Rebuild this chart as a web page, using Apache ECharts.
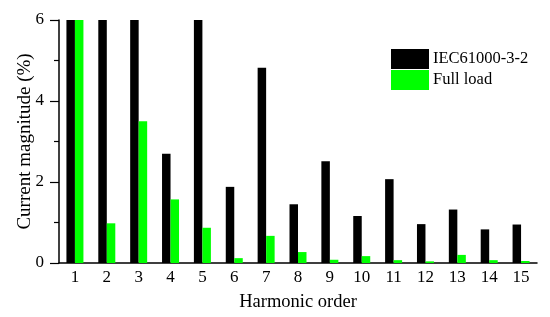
<!DOCTYPE html>
<html><head><meta charset="utf-8">
<script src="https://cdn.jsdelivr.net/npm/echarts@6/dist/echarts.min.js"></script>
<style>html,body{margin:0;padding:0;background:#fff}#c{width:550px;height:317px}</style>
</head><body><div id="c"></div>
<script>
const categories = ['1','2','3','4','5','6','7','8','9','10','11','12','13','14','15'];
const iecValues = [6, 6, 6, 2.70, 6, 1.88, 4.82, 1.45, 2.51, 1.16, 2.07, 0.96, 1.32, 0.83, 0.95];
const fullLoadValues = [6, 0.98, 3.50, 1.57, 0.87, 0.12, 0.67, 0.27, 0.08, 0.17, 0.07, 0.04, 0.20, 0.07, 0.05];
const seriesNames = ['IEC61000-3-2', 'Full load'];
const yTicks = [0, 2, 4, 6];

const font = '"Liberation Serif", "Times New Roman", serif';
const chart = echarts.init(document.getElementById('c'), null, {renderer: 'canvas'});
chart.setOption({
  animation: false,
  backgroundColor: '#fff',
  grid: {left: 59, right: 13, top: 20, bottom: 52, containLabel: false},
  legend: {
    orient: 'vertical', left: 391, top: 49, padding: 0,
    itemWidth: 38, itemHeight: 20, itemGap: 1,
    icon: 'rect',
    textStyle: {fontFamily: font, fontSize: 16.5, color: '#000', padding: [0, 0, 0, -1]},
    data: seriesNames
  },
  xAxis: {
    type: 'category', data: categories,
    name: 'Harmonic order', nameLocation: 'middle', nameGap: 30, nameMoveOverlap: false,
    nameTextStyle: {fontFamily: font, fontSize: 18.5, color: '#000'},
    axisLine: {lineStyle: {color: '#000', width: 1.5}},
    axisTick: {show: false},
    axisLabel: {fontFamily: font, fontSize: 17, color: '#000', margin: 6}
  },
  yAxis: {
    type: 'value', min: yTicks[0], max: yTicks[yTicks.length - 1], interval: 2,
    name: 'Current magnitude (%)', nameLocation: 'middle', nameGap: 24, nameMoveOverlap: false,
    nameTextStyle: {fontFamily: font, fontSize: 19, color: '#000'},
    axisLine: {show: true, lineStyle: {color: '#000', width: 1.5}},
    axisTick: {show: true, inside: false, length: 9, lineStyle: {color: '#000', width: 1.2}},
    minorTick: {show: true, splitNumber: 2, length: 5, lineStyle: {color: '#000', width: 1.2}},
    splitLine: {show: false},
    axisLabel: {fontFamily: font, fontSize: 17, color: '#000', margin: 15}
  },
  series: [
    {name: seriesNames[0], type: 'bar', data: iecValues, barWidth: 8.5, barGap: '0%', itemStyle: {color: '#000000'}},
    {name: seriesNames[1], type: 'bar', data: fullLoadValues, barWidth: 8.5, barGap: '0%', itemStyle: {color: '#00ff00'}}
  ]
});
</script></body></html>
